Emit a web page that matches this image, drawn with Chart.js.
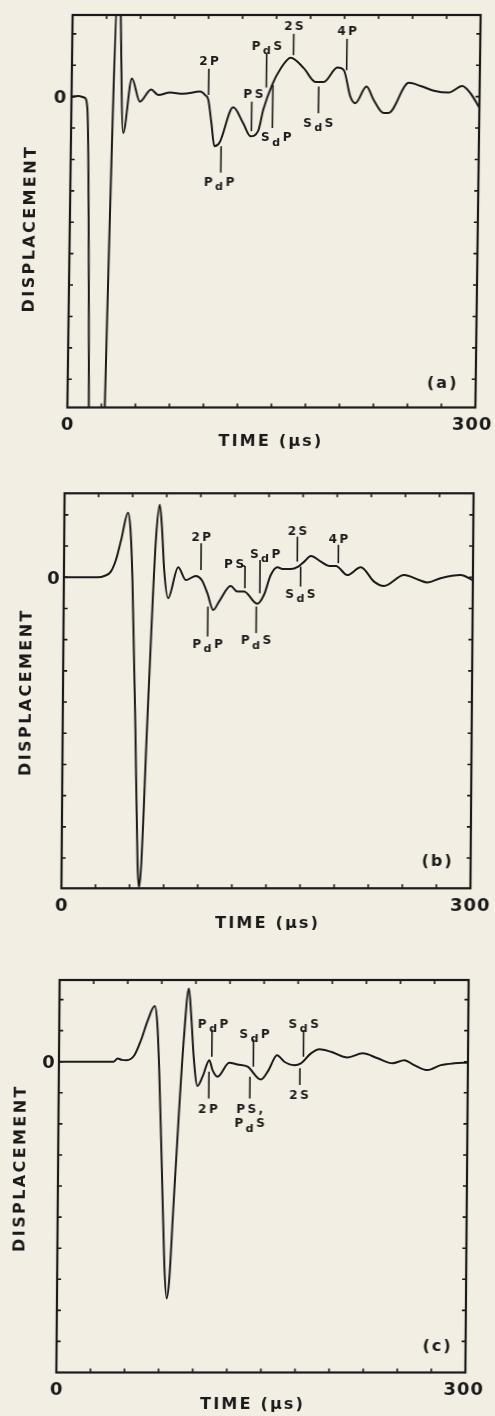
<!DOCTYPE html>
<html>
<head>
<meta charset="utf-8">
<title>Displacement waveforms</title>
<script src="https://cdn.jsdelivr.net/npm/chart.js@4.4.1/dist/chart.umd.min.js"></script>
<style>
  html, body { margin: 0; padding: 0; background: #f2eee3; }
  body { position: relative; width: 495px; height: 1416px; overflow: hidden; }
  canvas { position: absolute; left: 0; }
</style>
</head>
<body>
<canvas id="waveA" width="495" height="465"></canvas>
<canvas id="waveB" width="495" height="465"></canvas>
<canvas id="waveC" width="495" height="486"></canvas>
<script>
// ---- time axis (µs) ----
const timeRange = [0, 300];
const timeStep = 25;
const timeTickLabels = ['0', '300'];
const dispTickLabels = ['0'];

// ---- record (a) ----
const timeA = [0, 5, 9.5, 11.7, 21.4, 33.8, 38.3, 44.2, 50.3, 58.4, 63.8, 72.4, 82, 94.5, 98.2,
  100.6, 103.1, 105.5, 109.2, 119, 126.4, 132, 137.5, 141.1, 147.3, 153.4, 160.8, 170.6, 179.2,
  185.3, 195.2, 200, 205, 208.7, 216.8, 222.1, 229.5, 233.2, 247.9, 256.5, 266.3, 277.4,
  287.2, 293.4, 300];
const dispA = [0, 0.02, -0.03, -0.35, -23.4, 4.2, -1.16, 0.58, -0.16, 0.23, 0.05, 0.13, 0.09, 0.16, 0.05,
  -0.1, -0.84, -1.58, -1.47, -0.34, -0.84, -1.26, -1.1, -0.42, 0.37, 0.89, 1.24, 0.9, 0.47,
  0.47, 0.93, 0.84, 0, -0.21, 0.32, -0.1, -0.52, -0.52, 0.44, 0.34, 0.19, 0.13,
  0.34, 0.1, -0.35];
const phasesA = ['2P', 'PdP', 'PS', 'PdS', 'SdP', '2S', 'SdS', '4P'];
const phaseTimesA = [100.7, 110.5, 132.6, 143.1, 148, 162.8, 181.7, 202];

// ---- record (b) ----
const timeB = [0, 24.7, 29.6, 34.4, 38.1, 41.8, 46.7, 48.6, 50.3, 53.3, 55.7, 56.9, 58.4, 61.8, 65.2,
  67.4, 69.9, 71.6, 73.5, 76.5, 83.8, 89.4, 96.8, 101.1, 105.3, 109.7, 113.9, 122.4, 127.3, 132.2,
  141.9, 146.8, 151.7, 156.6, 160.3, 166.4, 171.8, 176.2, 181, 188.4, 194.5, 199.4, 207.9, 217.7,
  227.5, 234.8, 249.5, 260.5, 266.6, 276.3, 291, 300];
const dispB = [0, 0, 0.04, 0.18, 0.56, 1.2, 2.07, 1.5, -0.09, -4.8, -9.2, -9.95, -9.2, -4.9, -0.83,
  1.3, 2.32, 1.62, 0.24, -0.67, 0.32, -0.09, 0.04, -0.09, -0.51, -1.05, -0.78, -0.28, -0.46, -0.46,
  -0.85, -0.57, 0.07, 0.32, 0.26, 0.26, 0.34, 0.5, 0.68, 0.5, 0.36, 0.36, 0.07, 0.32,
  -0.14, -0.28, 0.07, -0.09, -0.17, -0.03, 0.07, -0.1];
const phasesB = ['2P', 'PdP', 'PS', 'SdP', 'PdS', '2S', 'SdS', '4P'];
const phaseTimesB = [100.5, 105.8, 132.8, 143.8, 141.3, 171.1, 173.6, 201.2];

// ---- record (c) ----
const timeC = [0, 40, 43, 46, 49.5, 55.3, 60.1, 65, 69.9, 71.9, 73.6, 76, 78.5, 80.4, 82.2,
  84.6, 88.3, 91.4, 94.9, 96.8, 98.8, 101.7, 105.4, 110.3, 112.7, 116.4, 124.9, 131, 138.4, 148.2,
  153.8, 159.9, 165.3, 172.6, 177.5, 184.8, 191, 199.5, 211.7, 222.7, 233.7, 244.7, 253.3, 260.6,
  270.4, 280.2, 290, 300];
const dispC = [0, 0, 0.1, 0.06, 0.05, 0.21, 0.7, 1.34, 1.79, 1.23, -0.27, -3.27, -6.5, -7.62, -7.03,
  -4.88, -1.66, 0.7, 2.36, 1.45, 0.16, -0.78, -0.48, 0.05, -0.27, -0.48, -0.03, -0.09, -0.16, -0.57,
  -0.27, 0.21, 0, -0.11, -0.05, 0.27, 0.4, 0.32, 0.14, 0.27, 0.11, -0.05, 0.05, -0.11,
  -0.27, -0.11, -0.05, -0.03];
const phasesC = ['PdP', '2P', 'SdP', 'PS, PdS', 'SdS', '2S'];
const phaseTimesC = [112.1, 110.1, 142.6, 140.2, 179.3, 176.8];

// ---- drawing style ----
const INK = '#1a1a1a';
const FONT = '"DejaVu Sans", "Liberation Sans", Arial, sans-serif';
const TICK = 4;

// marker layout: [top, bottom] in displacement units, label side, label x shift (px)
const marksA = [[0.89, 0.05, 'up', 0], [-1.58, -2.42, 'down', -1.5], [-0.16, -1.1, 'up', 1.5],
  [1.37, 0.29, 'up', 0], [0.37, -1.0, 'down', 4], [2.0, 1.32, 'up', 0], [0.32, -0.53, 'down', 0],
  [1.84, 0.84, 'up', 0]];
const marksB = [[1.09, 0.23, 'up', 0], [-0.94, -1.9, 'down', 0], [0.36, -0.35, 'hook', -11],
  [0.55, -0.51, 'up', 5], [-0.94, -1.79, 'down', 0], [1.3, 0.5, 'up', 0], [0.34, -0.3, 'down', 0],
  [1.04, 0.45, 'up', 0]];
const marksC = [[1.04, 0.16, 'up', 1], [-0.32, -1.18, 'down', -0.7], [0.72, -0.16, 'up', 1],
  [-0.48, -1.18, 'down', 0], [1.02, 0.16, 'up', 0], [-0.21, -0.75, 'down', -0.7]];

const panels = [
  { id: 'waveA', top: 0, height: 465, pad: { left: 70, right: 17, top: 15, bottom: 57.5 },
    yMin: -9.9, yMax: 2.6, skew: -0.77, tag: '(a)', time: timeA, disp: dispA,
    phases: phasesA, phaseTimes: phaseTimesA, marks: marksA, gapUp: 8, gapDown: 9,
    txt: { timeDx: -1, timeDy: 32.5, dispDx: -41, dispDy: 18.5, zeroDx: -11.5, endDx: -3.4, tagDx: -34, tagDy: -25 } },
  { id: 'waveB', top: 465, height: 465, pad: { left: 63, right: 23, top: 28.3, bottom: 41.7 },
    yMin: -9.97, yMax: 2.69, skew: -0.46, tag: '(b)', time: timeB, disp: dispB,
    phases: phasesB, phaseTimes: phaseTimesB, marks: marksB, gapUp: 6.5, gapDown: 7,
    txt: { timeDx: 1, timeDy: 33.4, dispDx: -38, dispDy: 2.5, zeroDx: -10.6, endDx: -0.5, tagDx: -34, tagDy: -28.3 } },
  { id: 'waveC', top: 930, height: 486, pad: { left: 58, right: 28, top: 50, bottom: 43.5 },
    yMin: -10.0, yMax: 2.63, skew: -0.48, tag: '(c)', time: timeC, disp: dispC,
    phases: phasesC, phaseTimes: phaseTimesC, marks: marksC, gapUp: 6, gapDown: 10,
    txt: { timeDx: -9, timeDy: 30.2, dispDx: -38.4, dispDy: -7, zeroDx: -10.6, endDx: -2, tagDx: -29, tagDy: -27.5 } }
];

// Letter-spaced bold text, centred on cx; a lowercase "d" in phase names is set as a subscript.
function drawSpaced(ctx, text, cx, baseline, size, spacing, subscriptD) {
  const run = [...text].map(ch => {
    const sub = subscriptD && ch === 'd';
    const px = sub ? size * 0.92 : size;
    ctx.font = `bold ${px}px ${FONT}`;
    return { ch, sub, px, w: ctx.measureText(ch).width };
  });
  const total = run.reduce((s, g) => s + g.w, 0) + spacing * (run.length - 1);
  let x = cx - total / 2;
  ctx.textAlign = 'left';
  ctx.textBaseline = 'alphabetic';
  for (const g of run) {
    ctx.font = `bold ${g.px}px ${FONT}`;
    ctx.fillText(g.ch, x, baseline + (g.sub ? size * 0.34 : 0));
    x += g.w + spacing;
  }
  return total;
}

function framePlugin(p) {
  return {
    id: 'frame' + p.id,
    afterDatasetsDraw(chart) {
      const { ctx, chartArea: a, scales: { x, y } } = chart;
      ctx.save();
      ctx.strokeStyle = INK;
      ctx.fillStyle = INK;

      // inward ticks on all four sides
      ctx.lineWidth = 1.6;
      ctx.beginPath();
      for (let t = timeRange[0] + timeStep; t < timeRange[1] - 1e-6; t += timeStep) {
        const px = x.getPixelForValue(t);
        ctx.moveTo(px, a.top); ctx.lineTo(px, a.top + TICK);
        ctx.moveTo(px, a.bottom); ctx.lineTo(px, a.bottom - TICK);
      }
      for (let v = Math.ceil(p.yMin + 0.2); v <= p.yMax - 0.2; v += 1) {
        const py = y.getPixelForValue(v);
        ctx.moveTo(a.left, py); ctx.lineTo(a.left + TICK, py);
        ctx.moveTo(a.right, py); ctx.lineTo(a.right - TICK, py);
      }
      ctx.stroke();

      // plot frame
      ctx.lineWidth = 2.2;
      ctx.strokeRect(a.left, a.top, a.right - a.left, a.bottom - a.top);

      // arrival markers and their phase names
      const size = 12, cap = size * 0.73;
      ctx.lineWidth = 1.6;
      p.phases.forEach((name, i) => {
        const [vTop, vBot, side, dx] = p.marks[i];
        const px = x.getPixelForValue(p.phaseTimes[i]);
        const y1 = y.getPixelForValue(vTop);
        const y2 = y.getPixelForValue(vBot);
        ctx.beginPath();
        ctx.moveTo(px, y1); ctx.lineTo(px, y2);
        if (side === 'hook') { ctx.moveTo(px - 3, y1); ctx.lineTo(px, y1); }
        ctx.stroke();
        if (side === 'up') {
          drawSpaced(ctx, name, px + dx, y1 - p.gapUp + cap / 2, size, 2.5, true);
        } else if (side === 'hook') {
          drawSpaced(ctx, name, px + dx, y1 - 2 + cap / 2, size, 2.5, true);
        } else {
          name.split(' ').forEach((line, k) => {
            drawSpaced(ctx, line, px + dx, y2 + p.gapDown + cap / 2 + k * 14.7, size, 2.5, true);
          });
        }
      });

      // axis numbers
      const num = 18, numCap = num * 0.73;
      const y0 = y.getPixelForValue(0);
      drawSpaced(ctx, dispTickLabels[0], a.left + p.txt.zeroDx, y0 + numCap / 2, num, 1, false);
      drawSpaced(ctx, timeTickLabels[0], x.getPixelForValue(timeRange[0]), a.bottom + 16 + numCap / 2, num, 1, false);
      drawSpaced(ctx, timeTickLabels[1], x.getPixelForValue(timeRange[1]) + p.txt.endDx, a.bottom + 16 + numCap / 2, num, 1, false);

      // axis titles
      const tt = 16, ttCap = tt * 0.73;
      drawSpaced(ctx, 'TIME (μs)', (a.left + a.right) / 2 + p.txt.timeDx, a.bottom + p.txt.timeDy + ttCap / 2, tt, 2.2, false);
      ctx.save();
      ctx.translate(a.left + p.txt.dispDx, (a.top + a.bottom) / 2 + p.txt.dispDy);
      ctx.rotate(-Math.PI / 2);
      drawSpaced(ctx, 'DISPLACEMENT', 0, ttCap / 2, tt, 2.4, false);
      ctx.restore();

      // panel tag
      drawSpaced(ctx, p.tag, a.right + p.txt.tagDx, a.bottom + p.txt.tagDy + ttCap / 2, tt, 2, false);
      ctx.restore();
    }
  };
}

panels.forEach(p => {
  const cv = document.getElementById(p.id);
  cv.style.top = p.top + 'px';
  const cy = p.pad.top + (p.height - p.pad.top - p.pad.bottom) / 2;
  cv.style.transformOrigin = `247px ${cy}px`;
  cv.style.transform = `skewX(${p.skew}deg)`;
  new Chart(cv, {
    type: 'line',
    data: {
      datasets: [{
        data: p.time.map((t, i) => ({ x: t, y: p.disp[i] })),
        borderColor: INK,
        borderWidth: 2,
        pointRadius: 0,
        cubicInterpolationMode: 'monotone',
        fill: false,
        clip: 0
      }]
    },
    options: {
      responsive: false,
      animation: false,
      devicePixelRatio: 1,
      layout: { padding: p.pad },
      scales: {
        x: { type: 'linear', min: timeRange[0], max: timeRange[1], display: false },
        y: { type: 'linear', min: p.yMin, max: p.yMax, display: false }
      },
      plugins: { legend: { display: false }, tooltip: { enabled: false } }
    },
    plugins: [framePlugin(p)]
  });
});
</script>
</body>
</html>
